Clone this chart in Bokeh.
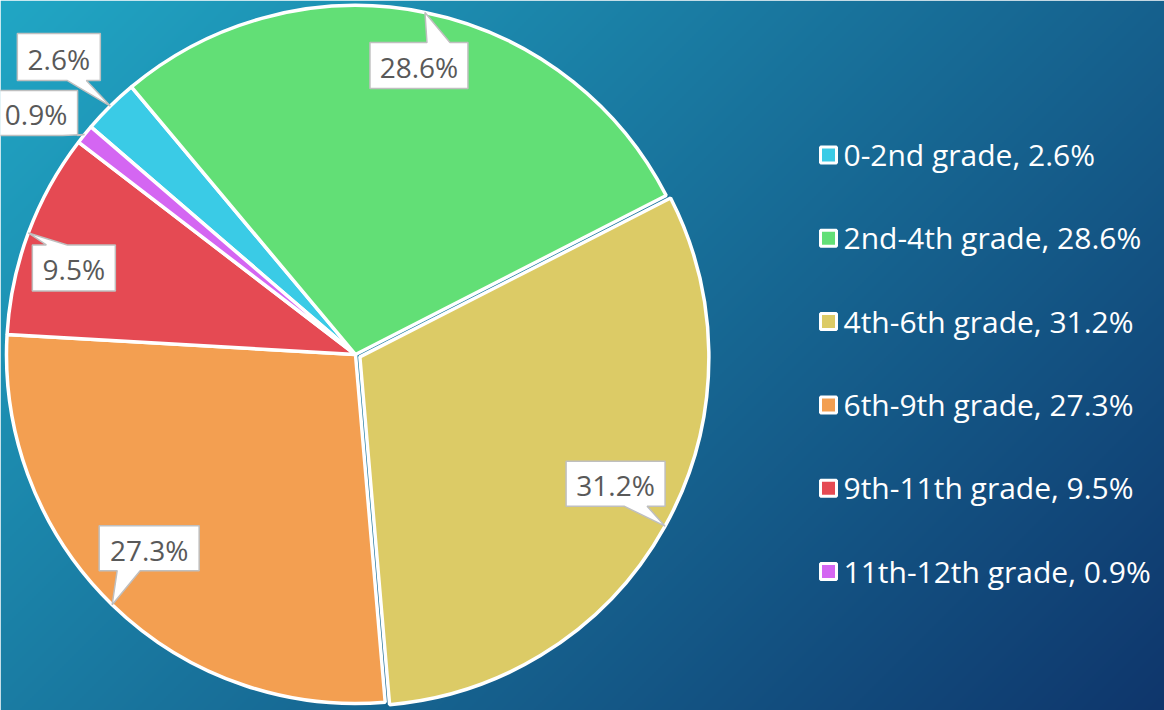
import numpy as np
from bokeh.plotting import figure
from bokeh.models import Range1d
from bokeh.core.properties import value
from bokeh.embed import file_html
from bokeh.resources import INLINE

# ---------------- data ----------------
categories = ["0-2nd grade", "2nd-4th grade", "4th-6th grade",
              "6th-9th grade", "9th-11th grade", "11th-12th grade"]
percents = [2.6, 28.6, 31.2, 27.3, 9.5, 0.9]
colors = ["#3ACBE6", "#62DF76", "#DCCB66", "#F39F51", "#E54A53", "#D466F2"]

# ---------------- layout / style ----------------
W, H = 1164, 710
CX, CY, R = 355.0, 356.0, 349.0          # pie centre and radius (plot units = px)
START_DEG = -49.3                         # clockwise from 12 o'clock
explode = [0, 0, 5, 0, 0, 0]
# callout boxes: offset of box centre from tip (dx, dy), width, height, side, pointer base (b1, b2)
callouts = [
    (-51.5, 49.0, 83, 47, "bottom", 8.5, 27.5),
    (-6.0, -53.0, 98, 46, "top", 8.0, 31.0),
    (-49.5, 42.5, 99, 45, "bottom", 8.5, 31.5),
    (37.0, 56.5, 100, 45, "bottom", -32.0, -9.0),
    (45.5, -35.0, 83, 46, "top", -27.5, -6.5),
    (-48.5, 21.5, 83, 45, "bottom", 26.5, 41.5),
]
LEG_X, LEG_Y0, LEG_DY = 828.0, 555.5, 83.3

p = figure(width=W, height=H, x_range=Range1d(0, W), y_range=Range1d(0, H),
           output_backend="svg", toolbar_location=None, min_border=0)
p.axis.visible = False
p.grid.visible = False
p.outline_line_color = None
p.border_fill_color = "#1A86AE"

# background gradient
ny, nx = 355, 582
yy, xx = np.mgrid[0:ny, 0:nx]
ref_x = (xx + 0.5) / nx * W
ref_y = H - (yy + 0.5) / ny * H
t = np.clip((ref_x + ref_y) / (W + H), 0, 1)
c0 = np.array([33, 167, 197], dtype=float)
c1 = np.array([15, 54, 108], dtype=float)
img = np.empty((ny, nx), dtype=np.uint32)
view = img.view(dtype=np.uint8).reshape((ny, nx, 4))
for k in range(3):
    view[..., k] = (c0[k] + (c1[k] - c0[k]) * t).astype(np.uint8)
view[..., 3] = 255
p.image_rgba(image=[img], x=0, y=0, dw=W, dh=H)

# pie wedges
fr = np.array(percents) / sum(percents)
cum = np.concatenate([[0], np.cumsum(fr)[:-1]])
th_s = START_DEG + cum * 360.0
th_e = th_s + fr * 360.0
th_m = (th_s + th_e) / 2
ms = np.radians(90 - th_s)
me = np.radians(90 - th_e)
mm = np.radians(90 - th_m)
xs = CX + np.array(explode) * np.cos(mm)
ys = CY + np.array(explode) * np.sin(mm)
p.wedge(x=xs, y=ys, radius=R, start_angle=ms, end_angle=me, direction="clock",
        fill_color=colors, line_color="white", line_width=3.5)

# callouts
px, py, tx, ty = [], [], [], []
labels = [f"{v}%" for v in percents]
for i, (dx, dy, bw, bh, side, b1, b2) in enumerate(callouts):
    tipx = xs[i] + R * np.cos(mm[i])
    tipy = ys[i] + R * np.sin(mm[i])
    bx, by = tipx + dx, tipy + dy
    x0, x1 = bx - bw / 2, bx + bw / 2
    y0, y1 = by - bh / 2, by + bh / 2
    if side == "top":
        poly = [(x0, y1), (bx + b1, y1), (tipx, tipy), (bx + b2, y1), (x1, y1), (x1, y0), (x0, y0)]
    else:
        poly = [(x0, y1), (x1, y1), (x1, y0), (bx + b2, y0), (tipx, tipy), (bx + b1, y0), (x0, y0)]
    px.append([q[0] for q in poly])
    py.append([q[1] for q in poly])
    tx.append(bx)
    ty.append(by - 1.5)
p.patches(xs=px, ys=py, fill_color="white", line_color="#BFBFBF", line_width=1.5)
p.text(x=tx, y=ty, text=labels, text_align="center", text_baseline="alphabetic",
       text_font=value("Open Sans"), text_font_size="28px", text_color="#595959")

# legend
ly = [LEG_Y0 - i * LEG_DY for i in range(len(categories))]
p.scatter(x=[LEG_X] * len(categories), y=ly, marker="square", size=16,
          fill_color=colors, line_color="white", line_width=3)
p.text(x=[LEG_X + 15] * len(categories), y=[v + 0.5 for v in ly],
       text=[f"{c}, {v}%" for c, v in zip(categories, percents)],
       text_align="left", text_baseline="alphabetic",
       text_font=value("Open Sans"), text_font_size="30px", text_color="white")

open("out.html", "w").write(file_html(p, INLINE))
